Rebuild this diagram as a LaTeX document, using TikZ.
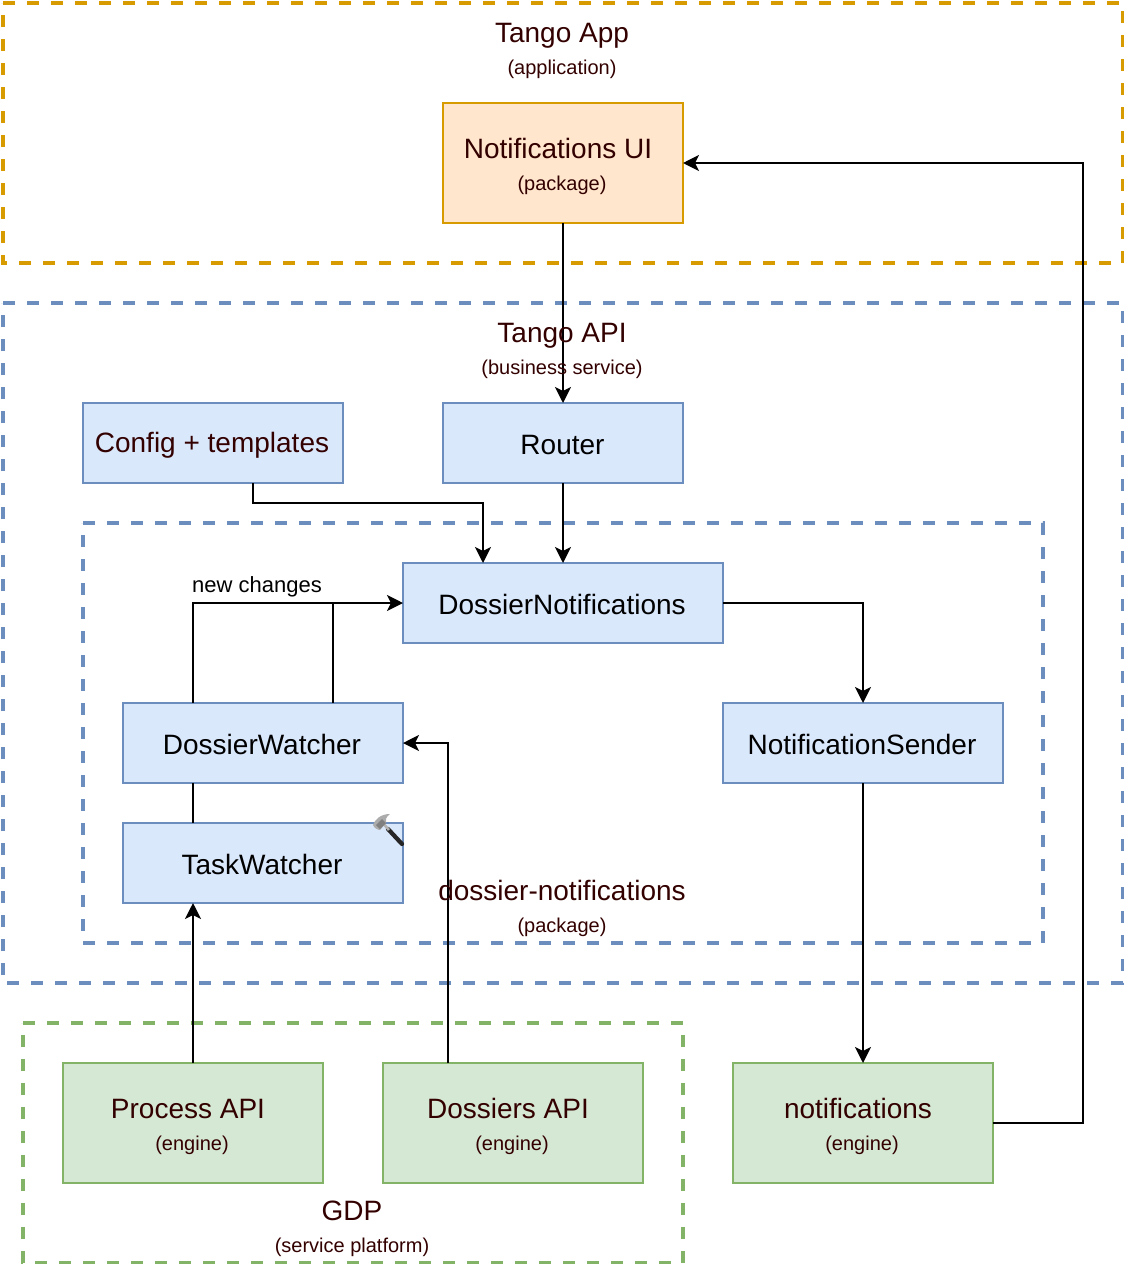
\documentclass[tikz,border=0pt]{standalone}
\usepackage{fontspec}
\setmainfont{Liberation Sans}
\usetikzlibrary{arrows.meta}
\definecolor{dred}{HTML}{330000}
\definecolor{orangeE}{HTML}{D79B00}
\definecolor{orangeF}{HTML}{FFE6CC}
\definecolor{blueE}{HTML}{6C8EBF}
\definecolor{blueF}{HTML}{DAE8FC}
\definecolor{greenE}{HTML}{82B366}
\definecolor{greenF}{HTML}{D5E8D4}
\tikzset{
  x=0.75pt,y=-0.75pt,
  frame/.style={line width=3pt,dash pattern=on 9pt off 9pt,fill=none},
  boxbase/.style={draw,line width=1.5pt,inner sep=0pt,outer sep=0pt,anchor=center,align=center},
  bluebox/.style={boxbase,draw=blueE,fill=blueF},
  greenbox/.style={boxbase,draw=greenE,fill=greenF},
  orangebox/.style={boxbase,draw=orangeE,fill=orangeF},
  big/.style={text=dred,font=\fontsize{21}{25}\selectfont,inner sep=0pt},
  bigk/.style={text=black,font=\fontsize{21}{25}\selectfont,inner sep=0pt},
  small/.style={text=dred,font=\fontsize{15}{18}\selectfont,inner sep=0pt},
  conn/.style={line width=1.5pt,draw=black},
  arr/.style={conn,-{Stealth[length=12pt,width=12pt,inset=3pt]}},
}
\begin{document}
\begin{tikzpicture}
\useasboundingbox (0,0) rectangle (1124,1264);
% containers
\draw[frame,draw=orangeE] (3,3) -- (1123,3) -- (1123,263) -- (3,263) -- cycle;
\draw[frame,draw=blueE] (3,303) -- (1123,303) -- (1123,983) -- (3,983) -- cycle;
\draw[frame,draw=blueE] (83,523) -- (1043,523) -- (1043,943) -- (83,943) -- cycle;
\draw[frame,draw=greenE] (23,1023) -- (683,1023) -- (683,1263) -- (23,1263) -- cycle;
% boxes
\node[orangebox,minimum width=180pt,minimum height=90pt] (ui) at (563,163) {};
\node[bluebox,minimum width=195pt,minimum height=60pt] (cfg) at (213,443) {};
\node[bluebox,minimum width=180pt,minimum height=60pt] (router) at (563,443) {};
\node[bluebox,minimum width=240pt,minimum height=60pt] (dn) at (563,603) {};
\node[bluebox,minimum width=210pt,minimum height=60pt] (dw) at (263,743) {};
\node[bluebox,minimum width=210pt,minimum height=60pt] (tw) at (263,863) {};
\node[bluebox,minimum width=210pt,minimum height=60pt] (ns) at (863,743) {};
\node[greenbox,minimum width=195pt,minimum height=90pt] (pa) at (193,1123) {};
\node[greenbox,minimum width=195pt,minimum height=90pt] (da) at (513,1123) {};
\node[greenbox,minimum width=195pt,minimum height=90pt] (no) at (863,1123) {};
% connectors
\draw[arr] (ui.south) -- (router.north);
\draw[arr] ([xshift=30pt]cfg.south) |- (403,503) coordinate (cfgbend) -| ([xshift=-60pt]dn.north);
\draw[arr] (router.south) -- (dn.north);
\draw[conn] ([xshift=52.5pt]dw.north) -- ([xshift=52.5pt]dw.north |- dn.west);
\draw[arr] ([xshift=-52.5pt]dw.north) |- (dn.west);
\draw[conn] ([xshift=-52.5pt]tw.north) -- ([xshift=-52.5pt]dw.south);
\draw[arr] ([xshift=-52.5pt]tw.south |- pa.north) -- ([xshift=-52.5pt]tw.south);
\draw[arr] ([xshift=-48.75pt]da.north) |- (dw.east);
\draw[arr] (dn.east) -| (ns.north);
\draw[arr] (ns.south) -- (no.north);
\draw[arr] (no.east) -- ++(90,0) |- (ui.east);
% labels
\node[big] (l1) at (562,35.5) {Tango App};
\node[small] (l2) at (562,69) {(application)};
\node[big] (l3) at (558,148.5) {Notifications UI};
\node[small] (l4) at (562,185) {(package)};
\node[big] (l5) at (562,335.5) {Tango API};
\node[small] (l6) at (562,369) {(business service)};
\node[big] (l7) at (562,890.5) {dossier-notifications};
\node[small] (l8) at (562,927) {(package)};
\node[font=\fontsize{16.5}{18}\selectfont,inner sep=0pt] (l9) at (257,587) {new changes};
\node[big] (l10) at (188,1109) {Process API};
\node[small] (l11) at (192,1145) {(engine)};
\node[big] (l12) at (508,1108) {Dossiers API};
\node[small] (l13) at (512,1145) {(engine)};
\node[big] (l14) at (858,1108.5) {notifications};
\node[small] (l15) at (862,1145) {(engine)};
\node[big] (l16) at (352,1210.5) {GDP};
\node[small] (l17) at (352,1247) {(service platform)};
\node[big] (l18) at (212,445) {Config + templates};
\node[bigk] (l19) at (562.5,445) {Router};
\node[bigk] (l20) at (562,604) {DossierNotifications};
\node[bigk] (l21) at (262,744) {DossierWatcher};
\node[bigk] (l22) at (262,864) {TaskWatcher};
\node[bigk] (l23) at (862,744) {NotificationSender};
% hammer
\draw[line width=3.2pt,line cap=round,draw=black!85] (388,829) -- (402,844);
\draw[line width=2pt,draw=gray!60] (381,821) -- (389,830);
\fill[gray!65] (373,825) .. controls (375,819) and (381,814) .. (390,814) .. controls (386,817) and (385,820) .. (386,823) -- (380,830) .. controls (378,830) and (374,828) .. (373,825) -- cycle;
\fill[black!50] (376,825) -- (382,819) -- (386,823) -- (380,829) -- cycle;
\end{tikzpicture}
\end{document}
